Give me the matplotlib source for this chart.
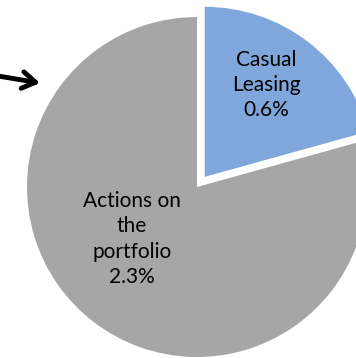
import matplotlib
matplotlib.use('Agg')
import matplotlib.pyplot as plt

# share of the portfolio, in %
categories = ['Casual\nLeasing', 'Actions on\nthe\nportfolio']
values = [0.6, 2.3]
colours = ['#7FA7DC', '#A6A6A6']

W, H = 356, 358
CX, CY, R = 197, 187, 170   # pie centre and radius in pixels


def px(x, y):
    # pixel position (origin top-left) -> data units of radius 1
    return (x - CX) / R, (CY - y) / R


fig = plt.figure(figsize=(W / 100, H / 100), dpi=100)
ax = fig.add_axes([0, 0, 1, 1])

ax.pie(values, colors=colours, startangle=90, counterclock=False,
       explode=[0.075, 0], radius=1, center=(0, 0),
       wedgeprops=dict(linewidth=0))

x0, y0 = px(0, H)
x1, y1 = px(W, 0)
ax.set_xlim(x0, x1)
ax.set_ylim(y0, y1)
ax.set_aspect('equal')
ax.axis('off')

label_pos = [px(266, 85), px(132, 239)]
for cat, val, (lx, ly) in zip(categories, values, label_pos):
    ax.text(lx, ly, '{}\n{}%'.format(cat, val), ha='center', va='center',
            fontsize=15, family='Lato', linespacing=1.32, color='black')

# pointer arrow coming in from the left
ax.annotate('', xy=px(40, 83), xytext=px(-2, 76),
            arrowprops=dict(arrowstyle='->,head_length=0.95,head_width=0.6',
                            lw=3.5, color='black', shrinkA=0, shrinkB=0,
                            capstyle='round', joinstyle='round'))

fig.savefig('out.png', dpi=100)
